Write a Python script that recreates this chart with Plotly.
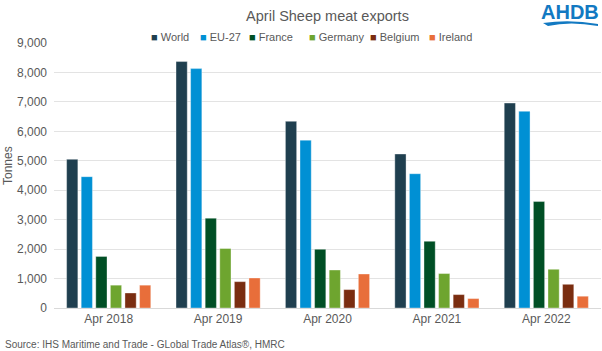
import plotly.graph_objects as go

categories = ["Apr 2018", "Apr 2019", "Apr 2020", "Apr 2021", "Apr 2022"]
world = [5050, 8370, 6340, 5230, 6960]
eu27 = [4460, 8130, 5700, 4560, 6680]
france = [1750, 3050, 1995, 2265, 3615]
germany = [775, 2020, 1290, 1170, 1315]
belgium = [510, 895, 625, 455, 805]
ireland = [775, 1020, 1155, 320, 400]

series = [
    ("World", world, "#1F3F4F"),
    ("EU-27", eu27, "#0090D4"),
    ("France", france, "#004F25"),
    ("Germany", germany, "#6EA52F"),
    ("Belgium", belgium, "#7A2D10"),
    ("Ireland", ireland, "#E86E3A"),
]
legend_x_px = [149, 197.5, 247, 306.5, 367.5, 426.5]

W, H = 602, 351
ML, MR, MT, MB = 54, 1, 43, 43

fig = go.Figure()
for name, vals, col in series:
    fig.add_trace(go.Bar(
        name=name, x=categories, y=vals,
        marker=dict(color=col, line=dict(color="rgba(255,255,255,0.6)", width=0.6)),
    ))

def px_x(p):
    return (p - ML) / (W - ML - MR)

def px_y(p):
    return 1 - (p - MT) / (H - MT - MB)

fig.update_layout(
    width=W, height=H,
    margin=dict(l=ML, r=MR, t=MT, b=MB),
    paper_bgcolor="white", plot_bgcolor="white",
    barmode="group", bargap=0.2, bargroupgap=0.23,
    font=dict(family="Liberation Sans, Arial, sans-serif", color="#595959", size=12),
    title=dict(text="April Sheep meat exports", x=0.5, xref="paper", y=1 - 16 / H, yanchor="middle",
               xanchor="center", font=dict(size=14.5, color="#595959")),
    showlegend=False,
    xaxis=dict(showgrid=False, showline=True, linecolor="#D9D9D9", linewidth=1, ticks="",
               tickfont=dict(size=12, color="#595959")),
    yaxis=dict(range=[0, 9000], dtick=1000, tickformat=",d", showgrid=True, gridcolor="#E3E3E3",
               gridwidth=1, zeroline=False, ticks="", tickfont=dict(size=12, color="#595959"),
               ticklabelstandoff=6),
)

# legend drawn as text entries
for (name, vals, col), lx in zip(series, legend_x_px):
    fig.add_annotation(text=f"<span style='color:{col}'>■</span> {name}",
                       xref="paper", yref="paper", x=px_x(lx), y=px_y(37),
                       xanchor="left", yanchor="middle", showarrow=False,
                       font=dict(size=11, color="#595959"))

fig.add_annotation(text="Tonnes", textangle=-90, xref="paper", yref="paper",
                   x=px_x(8), y=px_y(166), xanchor="center", yanchor="middle",
                   showarrow=False, font=dict(size=12, color="#595959"))
fig.add_annotation(text="Source: IHS Maritime and Trade - GLobal Trade Atlas®, HMRC",
                   xref="paper", yref="paper", x=px_x(3), y=px_y(344), xanchor="left", yanchor="middle",
                   showarrow=False, font=dict(size=10, color="#595959"))
# AHDB logo
fig.add_annotation(text="<b>AHDB</b>", xref="paper", yref="paper", x=px_x(570), y=px_y(12),
                   xanchor="center", yanchor="middle", showarrow=False,
                   font=dict(size=20, color="#1279C2", family="Liberation Sans, Arial, sans-serif"))
fig.add_shape(type="path", xref="paper", yref="paper",
              path=(f"M {px_x(543)},{px_y(23)} "
                    f"Q {px_x(570)},{px_y(19)} {px_x(598)},{px_y(24)} "
                    f"L {px_x(598)},{px_y(26)} "
                    f"Q {px_x(570)},{px_y(21)} {px_x(548)},{px_y(26)} Z"),
              fillcolor="#1279C2", line=dict(width=0))

fig.write_html("out.html")
